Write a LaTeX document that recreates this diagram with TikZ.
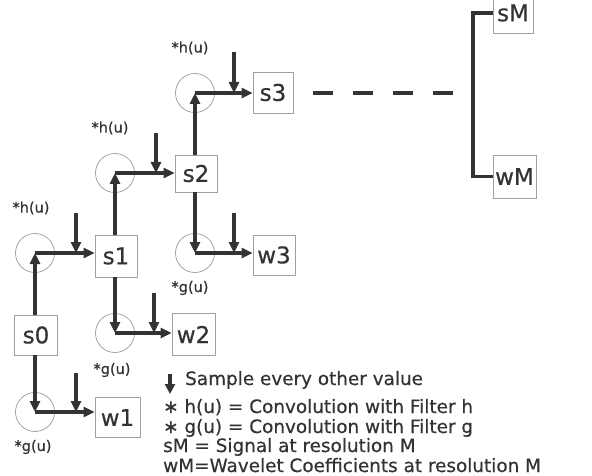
\documentclass[tikz,border=0pt]{standalone}
\usepackage{fontspec}
\setmainfont{DejaVu Sans}[FakeBold=0.5]
\usetikzlibrary{arrows.meta}
\definecolor{ink}{HTML}{333333}
\definecolor{boxgray}{HTML}{A0A0A0}
\definecolor{ringgray}{HTML}{9A9A9A}
\tikzset{
  blk/.style={draw=boxgray, line width=0.9pt, minimum width=42pt, minimum height=40pt,
    inner sep=0pt, text=ink, font=\fontsize{23}{23}\selectfont},
  filt/.style={circle, draw=ringgray, line width=0.7pt, minimum size=39pt, inner sep=0pt},
  flow/.style={draw=ink, line width=3.2pt, -{Triangle[length=11pt,width=10pt]}},
  joint/.style={draw=ink, line width=3.2pt},
  lab/.style={text=ink, inner sep=0pt, font=\fontsize{14.5}{14.5}\selectfont},
  legend/.style={text=ink, inner sep=0pt, anchor=base west, font=\fontsize{18.4}{18.4}\selectfont},
}
\begin{document}
\begin{tikzpicture}[x=1pt,y=-1pt]
\useasboundingbox (0,0) rectangle (592,476);
% boxes
\node[blk, minimum width=43pt] (s0) at (36,335) {s0};
\node[blk, minimum height=42pt] (s1) at (116,256) {s1};
\node[blk, minimum width=45pt] (w1) at (117.5,417.5) {w1};
\node[blk, minimum width=43pt, minimum height=42pt] (w2) at (193.5,334.5) {w2};
\node[blk, minimum height=37pt] (s2) at (196,173.5) {s2};
\node[blk, minimum width=40pt, minimum height=41pt] (s3) at (273,92.5) {s3};
\node[blk] (w3) at (274,255) {w3};
\node[blk, minimum width=40pt] (sM) at (513,13) {sM};
\node[blk, minimum width=43pt, minimum height=43pt] (wM) at (514.5,176.5) {wM};
% filters
\node[filt] (h0) at (35,253) {};
\node[filt] (g0) at (35,412) {};
\node[filt] (h1) at (115,173) {};
\node[filt] (g1) at (115,333) {};
\node[filt] (h2) at (195,93) {};
\node[filt] (g2) at (195,253) {};
% filter labels
\node[lab] (lh0) at (31,208) {*h(u)};
\node[lab] (lg0) at (33,447) {*g(u)};
\node[lab] (lh1) at (110,128) {*h(u)};
\node[lab] (lg1) at (112,370) {*g(u)};
\node[lab] (lh2) at (190,48) {*h(u)};
\node[lab] (lg2) at (190,288) {*g(u)};
% flows
\draw[flow] (s0.north -| h0) -- (h0.center);
\draw[flow] (h0.center) -- (h0.center -| s1.west);
\draw[flow] (s0.south -| g0) -- (g0.center);
\draw[flow] (g0.center) -- (g0.center -| w1.west);
\draw[flow] (s1.north -| h1) -- (h1.center);
\draw[flow] (h1.center) -- (h1.center -| s2.west);
\draw[flow] (s1.south -| g1) -- (g1.center);
\draw[flow] (g1.center) -- (g1.center -| w2.west);
\draw[flow] (s2.north -| h2) -- (h2.center);
\draw[flow] (h2.center) -- (h2.center -| s3.west);
\draw[flow] (s2.south -| g2) -- (g2.center);
\draw[flow] (g2.center) -- (g2.center -| w3.west);
% down-sampling arrows
\coordinate (d0) at (76,213);
\coordinate (d1) at (76,373);
\coordinate (d2) at (156,133);
\coordinate (d3) at (154,293);
\coordinate (d4) at (234,52);
\coordinate (d5) at (234,213);
\draw[flow] (d0) -- (d0 |- h0.center);
\draw[flow] (d1) -- (d1 |- g0.center);
\draw[flow] (d2) -- (d2 |- h1.center);
\draw[flow] (d3) -- (d3 |- g1.center);
\draw[flow] (d4) -- (d4 |- h2.center);
\draw[flow] (d5) -- (d5 |- g2.center);
% dashed continuation
\coordinate (ds) at (313,93);
\coordinate (de) at (453,93);
\draw[joint, dash pattern=on 20pt off 20pt] (ds) -- (de);
% final split
\coordinate (bar) at (473,93);
\draw[joint] (sM.west) -| (bar) |- (wM.west -| bar) -- (wM.west);
% legend
\coordinate (la) at (170,374);
\draw[flow, -{Triangle[length=10pt,width=10pt]}] (la) -- ++(0,20);
\node[legend] (t1) at (185,385) {Sample every other value};
\node[legend] (t2) at (163,413) {∗ h(u) = Convolution with Filter h};
\node[legend] (t3) at (163,433) {∗ g(u) = Convolution with Filter g};
\node[legend] (t4) at (163,452) {sM = Signal at resolution M};
\node[legend] (t5) at (163,472) {wM=Wavelet Coefficients at resolution M};
\end{tikzpicture}
\end{document}
